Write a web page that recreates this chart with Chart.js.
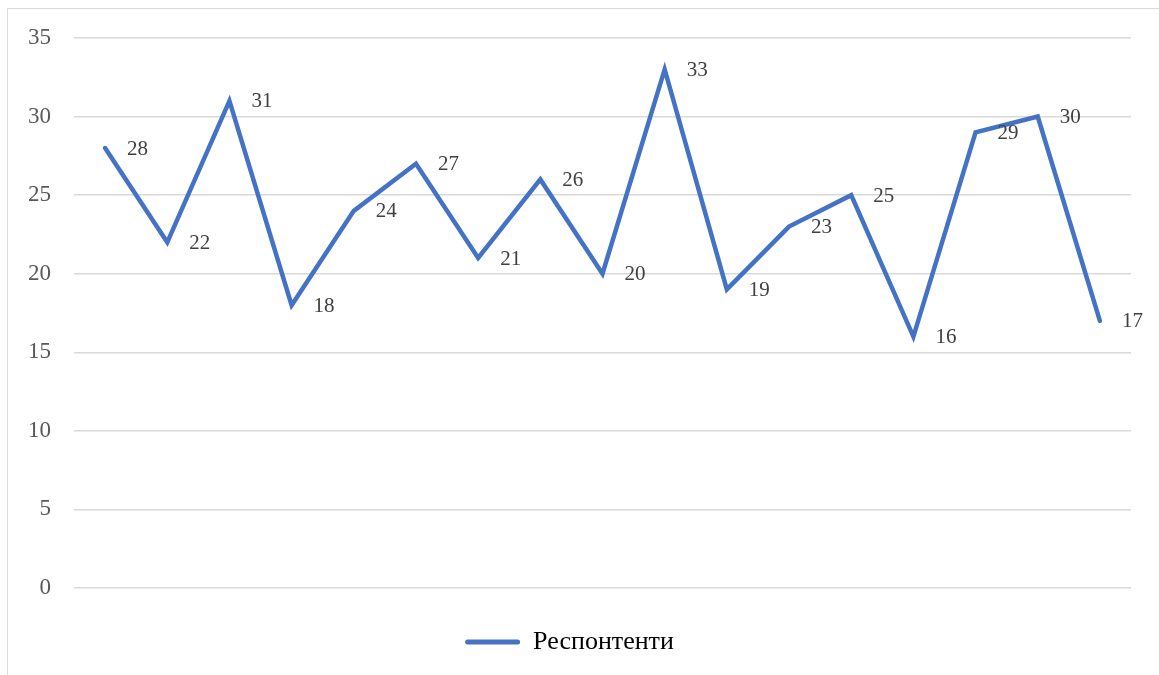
<!DOCTYPE html>
<html>
<head>
<meta charset="utf-8">
<script src="https://cdn.jsdelivr.net/npm/chart.js@4/dist/chart.umd.min.js"></script>
<style>
  body { margin: 0; background: #fff; overflow: hidden; }
  #frame { position: absolute; left: 7px; top: 8px; width: 1170px; height: 690px; border: 1px solid #d9d9d9; }
  #wrap { position: absolute; left: 0; top: 0; width: 1151px; height: 666px; }
</style>
</head>
<body>
<div id="frame"><div id="wrap"><canvas id="chart"></canvas></div></div>
<script>
// точки по оси X (подписей нет)
var categories = ["1", "2", "3", "4", "5", "6", "7", "8", "9", "10", "11", "12", "13", "14", "15", "16", "17"];
var respondents = [28, 22, 31, 18, 24, 27, 21, 26, 20, 33, 19, 23, 25, 16, 29, 30, 17];
var yTicks = [0, 5, 10, 15, 20, 25, 30, 35];

var serif = "'Liberation Serif', 'Times New Roman', serif";

// подписи значений справа от точек
var pointLabels = {
  id: "pointLabels",
  afterDatasetsDraw: function (chart) {
    var ctx = chart.ctx;
    var meta = chart.getDatasetMeta(0);
    ctx.save();
    ctx.font = "21px " + serif;
    ctx.fillStyle = "#404040";
    ctx.textAlign = "left";
    ctx.textBaseline = "middle";
    meta.data.forEach(function (pt, i) {
      ctx.fillText(String(respondents[i]), pt.x + 22, pt.y + 1);
    });
    ctx.restore();
  }
};

var ctx = document.getElementById("chart").getContext("2d");
new Chart(ctx, {
  type: "line",
  data: {
    labels: categories,
    datasets: [
      {
        label: "Респонтенти",
        data: respondents,
        borderColor: "#4472C4",
        backgroundColor: "#4472C4",
        borderWidth: 4.5,
        pointRadius: 0,
        tension: 0,
        borderJoinStyle: "miter",
        borderCapStyle: "round",
      },
    ],
  },
  options: {
    responsive: true,
    maintainAspectRatio: false,
    animation: false,
    layout: { padding: { left: 0, right: 28, top: 29, bottom: 10 } },
    scales: {
      x: {
        offset: true,
        grid: { display: false, drawTicks: false },
        border: { display: false },
        ticks: { display: false },
      },
      y: {
        min: 0,
        max: 35,
        afterBuildTicks: function (scale) {
          scale.ticks = yTicks.map(function (v) { return { value: v }; });
        },
        afterFit: function (scale) { scale.width = 66; },
        grid: { color: "#d9d9d9", lineWidth: 1.5, drawTicks: true, tickLength: 22, tickColor: "rgba(0,0,0,0)" },
        border: { display: false },
        ticks: {
          padding: 1,
          color: "#595959",
          font: { family: serif, size: 23 },
        },
      },
    },
    plugins: {
      legend: {
        position: "bottom",
        labels: {
          boxWidth: 55,
          boxHeight: 5,
          color: "#595959",
          font: { family: serif, size: 26 },
          padding: 41,
          generateLabels: function (chart) {
            return [{
              text: "Респонтенти",
              fillStyle: "#4472C4",
              strokeStyle: "#4472C4",
              lineWidth: 0,
              borderRadius: 2.5,
              datasetIndex: 0,
            }];
          },
        },
      },
      tooltip: { enabled: false },
    },
  },
  plugins: [pointLabels],
});
</script>
</body>
</html>
